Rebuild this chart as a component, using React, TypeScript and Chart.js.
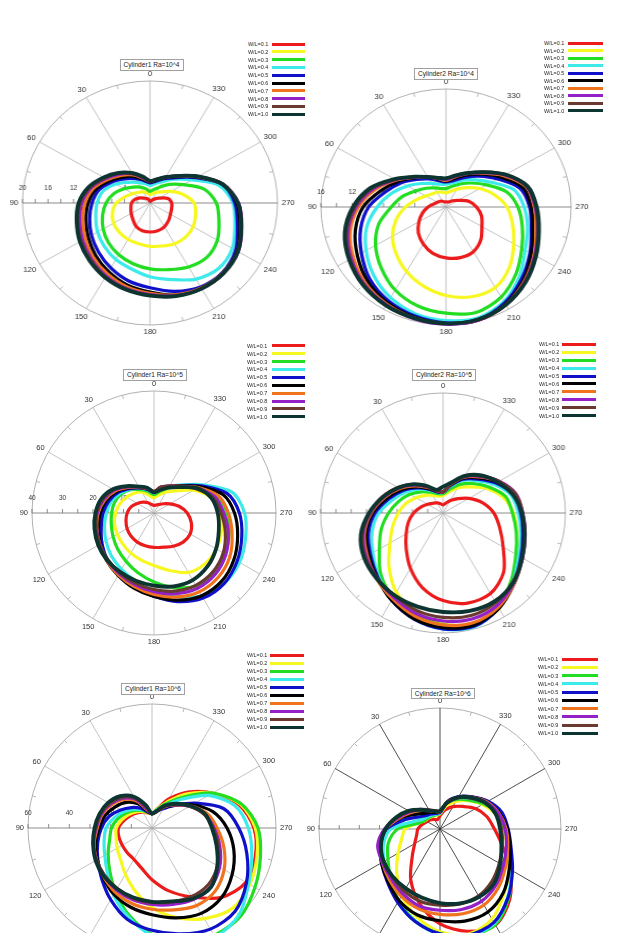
import React, { useEffect, useRef } from 'react';
import Chart from 'chart.js/auto';

// sample angles in degrees, counter-clockwise from the top (0 up, 90 left, 180 down, 270 right)
const angles = [0, 15, 30, 45, 60, 75, 90, 105, 120, 135, 150, 165, 180, 195, 210, 225, 240, 255, 270, 285, 300, 315, 330, 345];
const ratios = ['W/L=0.1', 'W/L=0.2', 'W/L=0.3', 'W/L=0.4', 'W/L=0.5', 'W/L=0.6', 'W/L=0.7', 'W/L=0.8', 'W/L=0.9', 'W/L=1.0'];
const seriesColors = ['#ec1c1c', '#f7f722', '#22dd22', '#3deaea', '#1010c8', '#000000', '#f0731e', '#9420c8', '#6a3a30', '#0c3430'];

// one row per W/L, one value per angle
const cyl1Ra4 = [
  [0.3, 0.5, 0.8, 1.1, 1.7, 2.4, 2.9, 3.1, 3.4, 3.8, 4.4, 4.7, 4.75, 4.7, 4.5, 4.1, 3.7, 3.5, 3.4, 2.9, 1.6, 0.9, 0.5, 0.3],
  [1.4, 1.7, 2.1, 2.5, 3.1, 4.0, 5.3, 6.1, 6.6, 6.8, 6.9, 6.9, 7.1, 7.3, 7.7, 7.9, 7.8, 7.4, 6.9, 5.4, 3.8, 2.6, 2.0, 1.6],
  [1.9, 2.4, 3.0, 3.7, 4.7, 5.9, 6.9, 7.7, 8.5, 9.2, 9.8, 10.3, 10.8, 11.3, 12.1, 12.6, 12.2, 11.2, 10.4, 8.8, 6.0, 4.3, 3.0, 2.3],
  [2.9, 3.3, 3.9, 4.8, 6.2, 7.6, 8.3, 8.8, 9.5, 10.1, 10.7, 11.2, 12.1, 13.0, 14.4, 15.2, 14.9, 13.8, 13.0, 11.2, 7.6, 5.5, 4.1, 3.3],
  [3.3, 3.8, 4.6, 5.6, 6.9, 8.3, 9.1, 9.8, 10.6, 11.4, 12.3, 13.2, 13.9, 15.0, 15.9, 16.1, 15.5, 14.2, 13.3, 11.8, 8.3, 5.9, 4.6, 3.7],
  [3.4, 4.0, 5.0, 6.0, 7.3, 8.8, 9.7, 10.4, 11.2, 12.1, 13.0, 13.9, 14.6, 15.6, 16.1, 16.2, 15.8, 14.6, 13.6, 11.9, 8.5, 6.1, 4.8, 3.9],
  [3.5, 4.2, 5.3, 6.4, 7.7, 9.2, 10.2, 10.9, 11.7, 12.6, 13.4, 14.2, 14.8, 15.6, 16.1, 16.2, 15.9, 14.8, 13.8, 11.9, 8.6, 6.2, 4.9, 4.0],
  [3.5, 4.3, 5.5, 6.7, 8.0, 9.6, 10.7, 11.4, 12.2, 13.0, 13.8, 14.5, 15.0, 15.7, 16.2, 16.3, 16.0, 14.9, 13.9, 11.9, 8.7, 6.3, 4.9, 4.0],
  [3.6, 4.4, 5.6, 6.9, 8.2, 9.8, 11.0, 11.7, 12.5, 13.2, 14.0, 14.6, 15.1, 15.7, 16.2, 16.3, 15.9, 14.8, 13.8, 11.8, 8.7, 6.3, 4.9, 4.0],
  [3.6, 4.5, 5.7, 7.0, 8.4, 10.0, 11.2, 11.9, 12.7, 13.4, 14.1, 14.7, 15.2, 15.8, 16.2, 16.3, 15.9, 14.8, 13.8, 11.8, 8.7, 6.3, 4.9, 4.0],
];

const cyl2Ra4 = [
  [0.7, 0.7, 0.9, 1.1, 1.3, 1.6, 2.3, 3.1, 4.0, 5.0, 5.8, 6.5, 6.9, 7.1, 7.0, 6.3, 5.3, 4.7, 3.9, 3.0, 1.8, 1.2, 0.8, 0.7],
  [1.9, 2.1, 2.3, 2.5, 3.0, 3.9, 5.2, 6.6, 7.9, 9.0, 10.1, 11.1, 12.0, 12.6, 12.6, 11.5, 10.0, 8.8, 7.8, 6.4, 5.0, 3.7, 2.8, 2.2],
  [2.5, 2.6, 3.0, 3.6, 4.4, 5.7, 7.0, 8.9, 10.4, 11.7, 13.0, 13.9, 14.4, 14.8, 14.1, 12.7, 11.2, 10.1, 9.2, 8.0, 6.0, 4.6, 3.6, 2.9],
  [3.1, 3.2, 3.7, 4.5, 5.7, 7.2, 8.8, 10.5, 11.8, 13.1, 14.2, 15.0, 15.4, 15.6, 14.8, 13.3, 11.7, 10.8, 10.0, 9.0, 6.7, 5.2, 4.2, 3.4],
  [3.4, 3.7, 4.4, 5.3, 6.6, 8.0, 9.9, 11.3, 12.5, 13.8, 14.7, 15.3, 15.7, 15.8, 15.0, 13.7, 12.4, 11.3, 10.7, 9.8, 7.6, 5.9, 4.6, 3.7],
  [3.5, 3.9, 4.7, 5.6, 7.0, 8.6, 10.6, 12.0, 13.1, 14.2, 15.0, 15.5, 15.8, 15.9, 15.2, 14.0, 12.6, 11.5, 10.9, 10.2, 8.1, 6.3, 5.0, 4.0],
  [3.6, 4.0, 4.7, 5.7, 7.3, 9.3, 11.2, 12.7, 13.7, 14.6, 15.2, 15.6, 15.8, 15.9, 15.3, 14.2, 13.0, 11.9, 11.3, 10.6, 8.5, 6.5, 5.2, 4.2],
  [3.7, 4.0, 4.7, 5.7, 7.4, 9.6, 11.5, 13.0, 14.0, 14.8, 15.3, 15.7, 15.9, 15.9, 15.3, 14.3, 13.1, 12.1, 11.4, 10.7, 8.7, 6.6, 5.2, 4.3],
  [3.8, 4.1, 4.7, 5.8, 7.5, 9.8, 11.7, 13.2, 14.2, 14.9, 15.4, 15.6, 15.8, 15.8, 15.3, 14.4, 13.2, 12.2, 11.5, 10.8, 8.8, 6.7, 5.3, 4.4],
  [3.9, 4.1, 4.7, 5.8, 7.6, 10.0, 11.9, 13.4, 14.3, 15.0, 15.4, 15.6, 15.8, 15.8, 15.3, 14.4, 13.3, 12.3, 11.6, 10.8, 8.8, 6.7, 5.3, 4.4],
];

const cyl1Ra5 = [
  [2.5, 2.9, 3.9, 5.0, 6.3, 7.8, 8.8, 9.5, 10.2, 10.7, 11.0, 11.1, 11.3, 11.6, 12.6, 13.5, 13.7, 12.7, 10.9, 8.5, 6.0, 4.3, 3.2, 2.7],
  [5.0, 6.0, 7.9, 9.2, 10.4, 11.6, 12.6, 13.4, 13.9, 14.4, 15.2, 16.0, 17.2, 19.5, 22.5, 23.6, 23.6, 22.9, 21.5, 19.4, 15.0, 10.3, 8.0, 6.2],
  [6.0, 7.3, 8.8, 10.8, 12.4, 13.4, 13.9, 14.5, 15.5, 16.8, 18.3, 20.3, 22.6, 25.3, 27.6, 28.0, 26.9, 25.5, 24.0, 21.5, 16.6, 12.3, 9.5, 7.4],
  [6.6, 7.8, 9.3, 11.0, 12.9, 14.5, 15.6, 16.8, 18.2, 19.8, 21.3, 23.1, 25.5, 28.2, 31.4, 32.6, 32.4, 31.1, 29.7, 26.5, 18.5, 13.0, 10.0, 8.2],
  [6.8, 8.0, 9.5, 11.3, 13.5, 15.3, 16.7, 17.9, 19.7, 21.6, 23.2, 25.2, 27.3, 30.1, 32.2, 32.6, 31.5, 29.8, 28.0, 24.8, 17.9, 12.7, 10.0, 8.3],
  [6.9, 8.2, 9.6, 11.6, 14.1, 16.1, 17.6, 18.8, 20.3, 22.0, 23.6, 25.5, 27.4, 29.6, 31.3, 31.5, 30.3, 28.4, 26.4, 23.4, 17.3, 12.6, 10.2, 8.6],
  [7.0, 8.3, 9.7, 11.9, 14.6, 16.7, 18.3, 19.4, 20.6, 22.0, 23.4, 25.0, 26.7, 28.5, 29.8, 29.8, 28.7, 26.5, 24.4, 21.8, 16.7, 12.4, 10.2, 8.7],
  [7.0, 8.4, 9.8, 12.1, 15.0, 17.1, 18.6, 19.5, 20.5, 21.7, 22.9, 24.3, 25.8, 27.4, 28.5, 28.4, 27.2, 25.2, 22.9, 20.6, 16.2, 12.3, 10.2, 8.8],
  [7.0, 8.5, 9.9, 12.3, 15.3, 17.5, 18.9, 19.7, 20.5, 21.5, 22.6, 23.8, 25.1, 26.5, 27.4, 27.3, 26.2, 24.2, 22.0, 19.9, 15.9, 12.2, 10.2, 8.8],
  [6.8, 8.6, 10.0, 12.5, 15.6, 17.9, 19.2, 20.2, 21.1, 21.8, 22.3, 23.0, 23.8, 24.9, 25.4, 24.8, 23.5, 22.0, 20.9, 19.4, 16.3, 12.0, 9.6, 7.8],
];

const cyl2Ra5 = [
  [2.7, 3.2, 3.9, 4.6, 5.8, 7.5, 9.6, 11.7, 13.9, 17.0, 21.3, 25.8, 29.2, 31.1, 31.0, 28.0, 22.7, 19.2, 16.6, 13.3, 9.8, 6.8, 4.8, 3.4],
  [5.8, 5.8, 6.8, 8.3, 10.2, 12.5, 14.6, 17.0, 20.0, 25.0, 30.5, 34.0, 37.0, 38.5, 36.8, 32.0, 27.8, 25.0, 23.0, 20.3, 16.4, 12.3, 9.7, 7.2],
  [6.4, 6.7, 8.0, 10.0, 12.5, 15.0, 17.8, 20.9, 24.0, 28.8, 32.5, 35.3, 37.3, 38.8, 36.0, 31.6, 27.5, 24.8, 22.7, 21.2, 17.3, 13.9, 11.0, 8.2],
  [6.8, 7.1, 8.8, 11.2, 14.0, 17.0, 21.0, 24.0, 26.5, 29.8, 33.4, 36.5, 38.7, 39.3, 36.5, 32.3, 28.6, 26.3, 24.6, 23.0, 19.2, 15.3, 12.5, 9.2],
  [7.0, 7.3, 9.2, 11.8, 15.0, 18.3, 22.2, 25.2, 27.4, 30.2, 33.6, 36.6, 38.6, 39.1, 36.6, 32.8, 29.4, 27.0, 25.4, 23.8, 20.0, 16.0, 13.0, 9.5],
  [7.0, 7.4, 9.4, 12.3, 15.6, 19.0, 23.0, 26.0, 28.0, 30.5, 33.6, 36.5, 38.2, 38.7, 36.6, 33.0, 29.8, 27.4, 25.8, 24.3, 20.5, 16.5, 13.4, 9.8],
  [7.0, 7.6, 9.8, 12.8, 16.3, 19.8, 23.5, 26.6, 28.6, 30.8, 33.0, 35.6, 37.3, 37.9, 36.2, 33.0, 30.0, 27.6, 26.0, 24.6, 21.0, 17.0, 13.8, 10.0],
  [7.0, 7.7, 10.0, 13.1, 16.7, 20.2, 23.8, 27.0, 29.0, 30.6, 32.4, 34.6, 36.0, 36.6, 35.5, 32.8, 30.0, 27.8, 26.1, 24.7, 21.2, 17.3, 14.0, 10.2],
  [7.0, 7.8, 10.2, 13.4, 17.0, 20.6, 24.0, 27.4, 29.4, 30.6, 31.7, 33.6, 34.8, 35.4, 34.5, 32.3, 29.8, 27.6, 26.0, 24.5, 21.1, 17.5, 14.2, 10.3],
  [8.8, 8.0, 10.4, 13.6, 16.9, 20.4, 24.2, 27.8, 29.8, 30.8, 31.7, 32.3, 33.0, 33.8, 33.9, 32.6, 29.9, 27.6, 25.8, 23.6, 20.6, 17.7, 14.3, 10.5],
];

const cyl1Ra6 = [
  [7.0, 7.6, 8.8, 10.3, 12.0, 14.0, 16.2, 16.6, 16.6, 16.9, 17.5, 20.0, 25.0, 31.5, 38.5, 47.5, 52.5, 51.8, 49.3, 43.6, 33.8, 24.6, 16.2, 9.5],
  [7.0, 7.8, 9.2, 11.0, 13.0, 15.2, 17.3, 18.0, 19.5, 21.5, 25.8, 31.5, 38.5, 44.8, 50.6, 55.0, 54.6, 52.6, 50.0, 44.3, 33.7, 23.2, 14.5, 9.5],
  [7.0, 8.0, 9.8, 12.0, 14.5, 17.2, 19.6, 21.2, 24.5, 29.0, 35.5, 43.5, 51.5, 57.0, 60.0, 60.5, 57.5, 54.3, 51.3, 44.8, 33.8, 21.0, 13.6, 9.3],
  [7.0, 8.3, 10.2, 12.8, 15.8, 19.0, 22.2, 24.0, 26.4, 30.5, 37.3, 44.5, 52.0, 58.0, 61.0, 59.5, 54.0, 50.0, 46.6, 41.5, 31.5, 19.5, 12.5, 9.0],
  [7.0, 8.0, 11.0, 14.0, 17.5, 21.5, 24.5, 27.2, 30.3, 34.5, 40.0, 45.8, 49.5, 53.0, 56.5, 56.9, 52.8, 47.5, 42.0, 36.0, 24.0, 15.5, 10.8, 8.5],
  [7.0, 8.5, 13.5, 17.5, 20.5, 23.5, 25.5, 28.2, 30.5, 33.5, 37.0, 39.7, 42.0, 45.0, 47.7, 47.6, 44.8, 41.0, 36.3, 30.5, 22.5, 15.5, 11.5, 8.3],
  [7.0, 9.0, 15.2, 19.5, 22.5, 25.0, 26.5, 29.0, 31.0, 33.2, 35.8, 37.8, 39.3, 41.0, 43.3, 43.2, 40.3, 36.0, 31.5, 27.5, 21.5, 15.8, 11.8, 8.2],
  [7.0, 9.5, 16.0, 20.3, 23.2, 25.4, 27.0, 29.3, 31.0, 32.7, 34.5, 36.0, 37.0, 38.3, 40.0, 40.2, 37.8, 34.0, 30.0, 26.3, 21.0, 16.0, 12.0, 8.1],
  [7.0, 10.5, 16.8, 21.0, 23.8, 25.8, 27.3, 29.5, 31.0, 32.4, 33.8, 35.2, 36.0, 37.0, 38.3, 38.6, 36.6, 33.2, 29.5, 26.0, 21.0, 16.3, 12.3, 8.1],
  [6.9, 11.5, 17.5, 21.8, 24.5, 26.3, 27.8, 29.5, 31.5, 33.0, 33.9, 34.8, 35.7, 36.8, 39.5, 40.4, 36.5, 32.3, 29.0, 26.5, 21.5, 16.6, 12.6, 8.5],
];

const cyl2Ra6 = [
  [6.6, 4.8, 5.5, 6.5, 7.4, 9.0, 11.0, 12.0, 14.5, 19.5, 29.0, 38.5, 47.0, 52.5, 55.0, 49.0, 40.0, 32.0, 27.0, 24.0, 20.3, 15.8, 12.8, 9.8],
  [7.5, 7.0, 7.3, 7.8, 8.5, 11.5, 17.3, 19.7, 24.0, 30.4, 38.0, 45.0, 51.0, 54.0, 51.5, 45.0, 39.5, 34.5, 31.3, 28.5, 24.3, 19.8, 15.8, 11.9],
  [7.8, 7.3, 7.6, 8.0, 8.6, 11.0, 21.0, 26.5, 29.8, 34.6, 41.0, 47.2, 52.0, 55.0, 54.8, 48.2, 41.0, 35.5, 32.0, 29.6, 25.0, 20.3, 17.0, 13.3],
  [8.0, 7.6, 8.0, 8.6, 9.8, 14.0, 24.5, 29.0, 32.0, 36.0, 41.8, 47.5, 52.3, 55.0, 54.0, 47.5, 41.0, 36.0, 33.0, 30.8, 26.5, 21.5, 17.7, 13.7],
  [8.2, 8.0, 8.6, 9.5, 12.0, 18.0, 26.5, 30.5, 33.5, 37.0, 42.0, 47.5, 52.0, 54.5, 53.5, 47.8, 41.5, 36.5, 33.8, 31.8, 27.5, 22.5, 18.5, 14.0],
  [8.5, 8.5, 9.5, 11.0, 14.5, 20.5, 27.0, 30.5, 33.5, 36.5, 40.8, 44.0, 45.5, 47.3, 47.5, 44.5, 39.7, 36.0, 33.5, 30.5, 27.0, 22.3, 18.3, 13.8],
  [8.7, 9.0, 10.5, 13.0, 16.5, 21.0, 27.0, 31.0, 33.0, 35.5, 38.5, 41.0, 42.3, 43.5, 43.5, 41.0, 37.5, 34.8, 32.8, 30.2, 26.8, 22.2, 18.2, 13.7],
  [8.8, 9.2, 10.8, 13.5, 17.0, 21.5, 27.5, 32.0, 33.0, 34.5, 37.0, 39.5, 40.3, 41.3, 41.3, 39.3, 36.2, 34.0, 32.3, 30.0, 26.5, 22.0, 18.0, 13.6],
  [8.9, 9.4, 11.0, 13.8, 17.5, 22.0, 27.0, 30.5, 32.3, 33.5, 35.5, 37.2, 37.8, 38.5, 38.3, 36.5, 34.0, 32.0, 30.5, 28.8, 25.8, 21.6, 17.8, 13.5],
  [9.0, 9.0, 10.5, 13.5, 18.0, 22.5, 27.0, 30.3, 32.2, 33.2, 34.0, 35.2, 36.7, 38.2, 38.9, 38.0, 34.5, 31.5, 29.8, 28.6, 26.0, 22.0, 18.2, 13.5],
];

// radial tick labels printed along the 90-degree axis
const ticksRa4Cyl1 = [4, 8, 12, 16, 20];
const ticksRa4Cyl2 = [4, 8, 12, 16];
const ticksRa5Cyl1 = [10, 20, 30, 40];
const ticksRa6Cyl1 = [20, 40, 60];

const FONT = '"Liberation Sans", Arial, Helvetica, sans-serif';
const PAD = 30;

type Panel = {
  title: string;
  data: number[][];
  max: number;
  step: number;
  minor: number;
  tickLabels: number[];
  cx: number;
  cy: number;
  R: number;
  sx: number;
  spoke: string;
  titleX: number;
  titleY: number;
  legX: number;
  lineX: number;
  lineW: number;
  legY: number;
  legDy: number;
};

const panels: Panel[] = [
  { title: 'Cylinder1 Ra=10^4', data: cyl1Ra4, max: 20, step: 4, minor: 2, tickLabels: ticksRa4Cyl1,
    cx: 150, cy: 203, R: 122, sx: 1.045, spoke: '#b4b4b4',
    titleX: 151.5, titleY: 59, legX: 248, lineX: 272, lineW: 33, legY: 44, legDy: 7.8 },
  { title: 'Cylinder2 Ra=10^4', data: cyl2Ra4, max: 16, step: 4, minor: 2, tickLabels: ticksRa4Cyl2,
    cx: 446, cy: 207, R: 118, sx: 1.06, spoke: '#b4b4b4',
    titleX: 446, titleY: 68, legX: 544, lineX: 568, lineW: 35, legY: 43.3, legDy: 7.5 },
  { title: 'Cylinder1 Ra=10^5', data: cyl1Ra5, max: 40, step: 10, minor: 5, tickLabels: ticksRa5Cyl1,
    cx: 154, cy: 513, R: 122, sx: 1.0, spoke: '#b4b4b4',
    titleX: 155, titleY: 369, legX: 247, lineX: 272, lineW: 33, legY: 345.7, legDy: 7.9 },
  { title: 'Cylinder2 Ra=10^5', data: cyl2Ra5, max: 40, step: 10, minor: 5, tickLabels: [],
    cx: 443, cy: 513, R: 120, sx: 1.02, spoke: '#b4b4b4',
    titleX: 444, titleY: 369, legX: 539, lineX: 562, lineW: 34, legY: 344.3, legDy: 7.93 },
  { title: 'Cylinder1 Ra=10^6', data: cyl1Ra6, max: 60, step: 20, minor: 10, tickLabels: ticksRa6Cyl1,
    cx: 152, cy: 828, R: 124, sx: 1.0, spoke: '#b4b4b4',
    titleX: 153, titleY: 683, legX: 247, lineX: 270, lineW: 34, legY: 655, legDy: 8.0 },
  { title: 'Cylinder2 Ra=10^6', data: cyl2Ra6, max: 60, step: 20, minor: 10, tickLabels: [],
    cx: 440, cy: 829, R: 121, sx: 1.0, spoke: '#222222',
    titleX: 442.7, titleY: 687.5, legX: 538, lineX: 562, lineW: 36, legY: 659, legDy: 8.25 },
];

function PolarPanel({ p }: { p: Panel }) {
  const canvasRef = useRef<HTMLCanvasElement>(null);

  useEffect(() => {
    if (!canvasRef.current) return;

    // radar points run clockwise from the top, so index i sits at angle 360 - 15i
    const n = angles.length;
    const order = angles.map((_, i) => (n - i) % n);
    const labels = order.map((k) => String(angles[k]));

    const datasets = p.data.map((vals, j) => ({
      label: ratios[j],
      data: order.map((k) => vals[k]),
      borderColor: seriesColors[j],
      backgroundColor: 'rgba(0,0,0,0)',
      borderWidth: j === 9 ? 3.8 : 3.2,
      fill: false,
      pointRadius: 0,
      pointHoverRadius: 0,
      tension: 0.3,
      clip: false,
      order: 10 - j,
    }));

    const decor = {
      id: 'polarDecor',
      beforeDatasetsDraw(chart: any) {
        const sc = chart.scales.r;
        const ctx = chart.ctx as CanvasRenderingContext2D;
        const R = sc.drawingArea;
        ctx.save();

        // small inward ticks on the rim between the spokes
        ctx.strokeStyle = '#a8a8a8';
        ctx.lineWidth = 0.8;
        labels.forEach((lab, i) => {
          if (Number(lab) % 30 === 0) return;
          const a = sc.getPointPosition(i, R);
          const b = sc.getPointPosition(i, R - 4);
          ctx.beginPath();
          ctx.moveTo(a.x, a.y);
          ctx.lineTo(b.x, b.y);
          ctx.stroke();
        });

        // radial ticks and labels along the 90 degree axis
        const axis = labels.indexOf('90');
        ctx.strokeStyle = '#707070';
        ctx.fillStyle = '#333';
        ctx.font = `6.5px ${FONT}`;
        ctx.textAlign = 'center';
        ctx.textBaseline = 'middle';
        for (let v = p.minor; v <= p.max + 1e-6; v += p.minor) {
          const q = sc.getPointPosition(axis, sc.getDistanceFromCenterForValue(v));
          ctx.beginPath();
          ctx.moveTo(q.x, q.y);
          ctx.lineTo(q.x, q.y - 4);
          ctx.stroke();
        }
        p.tickLabels.forEach((v) => {
          const q = sc.getPointPosition(axis, sc.getDistanceFromCenterForValue(v));
          ctx.fillText(String(v), q.x, q.y - 15);
        });

        // angle labels every 30 degrees
        ctx.font = `7.5px ${FONT}`;
        labels.forEach((lab, i) => {
          if (Number(lab) % 30 !== 0) return;
          const w = ctx.measureText(lab).width;
          const a = sc.getIndexAngle(i);
          const ext = (Math.abs(Math.sin(a)) * w) / 2 + (Math.abs(Math.cos(a)) * 6) / 2;
          const q = sc.getPointPosition(i, R + 4 + ext);
          ctx.fillText(lab, q.x, q.y);
        });
        ctx.restore();
      },
    };

    const chart = new Chart(canvasRef.current, {
      type: 'radar',
      data: { labels, datasets },
      options: {
        responsive: true,
        maintainAspectRatio: false,
        animation: false,
        events: [],
        layout: { padding: PAD },
        elements: { line: { capBezierPoints: false } },
        plugins: {
          legend: { display: false },
          tooltip: { enabled: false },
        },
        scales: {
          r: {
            min: 0,
            max: p.max,
            startAngle: 0,
            ticks: { display: false, stepSize: p.step },
            pointLabels: { display: false },
            grid: {
              circular: true,
              lineWidth: 0.9,
              color: (c: any) => (c.tick && Math.abs(c.tick.value - p.max) < 1e-6 ? '#a8a8a8' : 'rgba(0,0,0,0)'),
            },
            angleLines: {
              lineWidth: 0.8,
              color: (c: any) => {
                const deg = Number(labels[c.index]);
                if (deg % 30 !== 0) return 'rgba(0,0,0,0)';
                return deg === 90 || deg === 270 ? '#707070' : p.spoke;
              },
            },
          },
        },
      },
      plugins: [decor],
    } as any);

    return () => chart.destroy();
  }, [p]);

  const S = 2 * (p.R + PAD);
  return (
    <div
      style={{
        position: 'absolute',
        left: p.cx - S / 2,
        top: p.cy - S / 2,
        width: S,
        height: S,
        transform: `scaleX(${p.sx})`,
        transformOrigin: 'center center',
      }}
    >
      <canvas ref={canvasRef} style={{ display: 'block' }} />
    </div>
  );
}

function PanelLabels({ p }: { p: Panel }) {
  return (
    <>
      <div
        style={{
          position: 'absolute',
          left: p.titleX,
          top: p.titleY,
          transform: 'translateX(-50%)',
          border: '1px solid #a0a0a0',
          background: '#fff',
          padding: '0 3px',
          fontSize: 6.6,
          lineHeight: '9.5px',
          whiteSpace: 'nowrap',
          color: '#222',
        }}
      >
        {p.title}
      </div>
      {ratios.map((lab, j) => (
        <React.Fragment key={lab}>
          <div
            style={{
              position: 'absolute',
              left: p.legX,
              top: p.legY + j * p.legDy - 4,
              height: 8,
              lineHeight: '8px',
              fontSize: 5.4,
              color: '#222',
              whiteSpace: 'nowrap',
            }}
          >
            {lab}
          </div>
          <div
            style={{
              position: 'absolute',
              left: p.lineX,
              top: p.legY + j * p.legDy - 1.5,
              width: p.lineW,
              height: 3,
              background: seriesColors[j],
            }}
          />
        </React.Fragment>
      ))}
    </>
  );
}

export default function App() {
  return (
    <div
      style={{
        position: 'fixed',
        left: 0,
        top: 0,
        width: 623,
        height: 933,
        overflow: 'hidden',
        background: '#fff',
        fontFamily: FONT,
      }}
    >
      {panels.map((p) => (
        <PolarPanel key={p.title} p={p} />
      ))}
      {panels.map((p) => (
        <PanelLabels key={'l' + p.title} p={p} />
      ))}
    </div>
  );
}
